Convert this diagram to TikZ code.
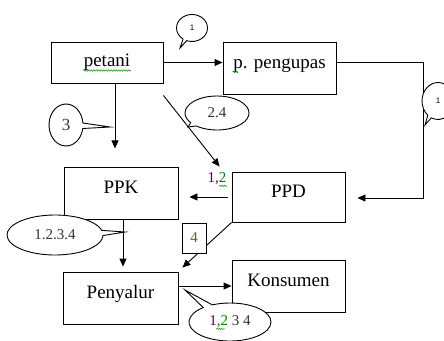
\documentclass[tikz,border=0pt]{standalone}
\usepackage{fontspec}
\setmainfont{Liberation Serif}
\setsansfont{Liberation Sans}
\usetikzlibrary{arrows.meta,shapes.callouts,decorations.pathmorphing}

\begin{document}
\begin{tikzpicture}[x=1pt, y=-1pt, line width=0.9pt,
    box/.style={draw, fill=white, inner sep=0pt, text height=9pt, text depth=9pt, font=\fontsize{19}{21}\selectfont},
    arr/.style={-{Triangle[length=8pt,width=7pt]}},
    bubble/.style={draw, fill=white, ellipse callout, inner sep=0pt, text=black!80, font=\fontsize{15}{17}\selectfont},
    tag/.style={bubble, text=black, font=\sffamily\fontsize{8}{10}\selectfont},
    squiggle/.style={draw=green!55!black, line width=0.5pt, decorate, decoration={snake, amplitude=0.7pt, segment length=2.5pt}}]
    \useasboundingbox (0,0) rectangle (444,340);
    \node[box, minimum width=112pt, minimum height=41pt, text height=12pt, text depth=4pt] (petani) at (107,62.5) {petani};
    \node[box, minimum width=113pt, minimum height=52pt] (pengupas) at (279.5,68) {p. pengupas};
    \node[box, minimum width=114pt, minimum height=52pt] (ppk) at (121,193) {PPK};
    \node[box, minimum width=113pt, minimum height=50pt] (ppd) at (288.5,197) {PPD};
    \node[box, minimum width=115pt, minimum height=52pt] (penyalur) at (120.5,298) {Penyalur};
    \node[box, minimum width=113pt, minimum height=52pt] (konsumen) at (288.5,286) {Konsumen};
    \coordinate (bend) at (423,198);
    \draw[arr] (petani.east) -- (petani.east -| pengupas.west);
    \draw[arr, shorten >=12pt] (pengupas.east |- petani.east) -| (bend) -- (bend -| ppd.east);
    \draw[arr] ([xshift=8pt]petani.south) -- ++(0,65);
    \draw[arr] ([yshift=-12pt]petani.south east) -- ([xshift=-12pt,yshift=5pt]ppd.north west);
    \draw[arr, shorten <=4pt, shorten >=11pt] (ppd.west) -- (ppd.west -| ppk.east);
    \draw[arr, shorten >=5pt] ([xshift=2pt]ppk.south) -- ([xshift=2pt]ppk.south |- penyalur.north);
    \draw[arr] (ppd.south west) -- ([xshift=4pt,yshift=4pt]penyalur.north east);
    \draw[arr] (penyalur.east |- konsumen.west) -- (konsumen.west);
    \node[box, minimum width=24pt, minimum height=30pt, text height=9pt, text depth=0pt, font=\fontsize{15}{17}\selectfont, text=olive!60!black] (four) at (194,238) {4};
    \node[font=\fontsize{15}{17}\selectfont] (lbl) at (217,179) {\textcolor{violet!70!black}{1,}\textcolor{green!50!black}{2}};
    \node[tag, minimum width=31pt, minimum height=27pt, callout absolute pointer={(180,48)}] (top) at (192,28) {1};
    \node[tag, minimum width=32pt, minimum height=37pt, callout absolute pointer={(425,125)}] (side) at (438,101) {1};
    \node[bubble, minimum width=34pt, minimum height=42pt, font=\fontsize{17}{19}\selectfont, callout absolute pointer={(110,127)}] (three) at (66,125) {3};
    \node[bubble, minimum width=64pt, minimum height=34pt, callout absolute pointer={(188,127)}] (twofour) at (217,113) {2.4};
    \node[bubble, minimum width=96pt, minimum height=40pt, callout absolute pointer={(125,232)}] (all) at (55,235) {1.2.3.4};
    \node[bubble, minimum width=82pt, minimum height=38pt, callout absolute pointer={(185,290)}] (allb) at (230,322) {\textcolor{violet!70!black}{1}\textcolor{green!50!black}{,2} 3 4};
    \draw[squiggle] ([xshift=-24pt,yshift=-4pt]petani.base) -- ([xshift=24pt,yshift=-4pt]petani.base);
    \draw[squiggle] ([xshift=-47pt,yshift=-4pt]pengupas.base) -- ++(6,0);
    \draw[squiggle] ([xshift=2pt,yshift=-3pt]lbl.base) -- ++(8,0);
    \draw[squiggle] ([xshift=-14pt,yshift=-3pt]allb.base) -- ++(9,0);
\end{tikzpicture}
\end{document}
